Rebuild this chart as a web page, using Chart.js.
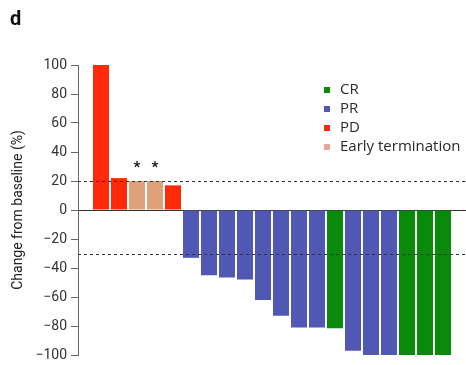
<!DOCTYPE html>
<html>
<head>
<meta charset="utf-8">
<script src="https://cdn.jsdelivr.net/npm/chart.js@4"></script>
<style>
  html, body { margin: 0; padding: 0; background: #fff; }
  #wrap { position: relative; width: 466px; height: 365px; }
  #panel { position: absolute; left: 10px; top: 6px; font: bold 20px Roboto, sans-serif; color: #111; }
</style>
</head>
<body>
<div id="wrap">
  <canvas id="waterfall" width="466" height="365"></canvas>
  <div id="panel">d</div>
</div>
<script>
// patients, in waterfall order
const patients  = [1, 2, 3, 4, 5, 6, 7, 8, 9, 10, 11, 12, 13, 14, 15, 16, 17, 18, 19, 20];
const changes   = [100, 22, 20, 20, 17, -33, -45, -46.5, -48, -62, -73, -81, -81, -81.5, -97, -100, -100, -100, -100, -100];
const responses = ['PD', 'PD', 'ET', 'ET', 'PD', 'PR', 'PR', 'PR', 'PR', 'PR', 'PR', 'PR', 'PR', 'CR', 'PR', 'PR', 'PR', 'CR', 'CR', 'CR'];
const legendKeys   = ['CR', 'PR', 'PD', 'ET'];
const legendLabels = ['CR', 'PR', 'PD', 'Early termination'];
const thresholds = [20, -30];
const yTicks = [-100, -80, -60, -40, -20, 0, 20, 40, 60, 80, 100];

const colors = { CR: '#0a8a0a', PR: '#5058b4', PD: '#fe2a0a', ET: '#dfa07c' };
const legendColors = { CR: '#0a8a0a', PR: '#5058b4', PD: '#fe2a0a', ET: '#e6a596' };

// dashed reference lines, asterisks and legend
const extras = {
  id: 'extras',
  afterDatasetsDraw(chart) {
    const { ctx, chartArea, scales } = chart;
    ctx.save();
    ctx.strokeStyle = '#333';
    ctx.lineWidth = 1;
    ctx.setLineDash([3, 3]);
    thresholds.forEach(t => {
      const y = Math.round(scales.y.getPixelForValue(t)) + 0.5;
      ctx.beginPath();
      ctx.moveTo(chartArea.left, y);
      ctx.lineTo(chartArea.right, y);
      ctx.stroke();
    });
    ctx.setLineDash([]);

    const meta = chart.getDatasetMeta(0);
    ctx.fillStyle = '#111';
    ctx.font = 'bold 15px Roboto, sans-serif';
    ctx.textAlign = 'center';
    ctx.textBaseline = 'middle';
    responses.forEach((r, i) => {
      if (r !== 'ET') return;
      const bar = meta.data[i];
      ctx.fillText('*', bar.x, bar.y - 13);
    });

    ctx.font = '15px "Open Sans", sans-serif';
    ctx.textAlign = 'left';
    legendKeys.forEach((k, i) => {
      const y = 90 + i * 19;
      ctx.fillStyle = legendColors[k];
      ctx.fillRect(324, y - 3, 6, 6);
      ctx.fillStyle = '#2a2a2a';
      ctx.fillText(legendLabels[i], 340, y);
    });
    ctx.restore();
  }
};

new Chart(document.getElementById('waterfall'), {
  type: 'bar',
  data: {
    datasets: [{
      data: patients.map((p, i) => ({ x: p, y: changes[i] })),
      backgroundColor: responses.map(r => colors[r]),
      borderWidth: 0,
      barPercentage: 0.89,
      categoryPercentage: 1
    }]
  },
  options: {
    responsive: false,
    animation: false,
    layout: { padding: { top: 65, bottom: 10, left: 0, right: 0 } },
    plugins: { legend: { display: false }, tooltip: { enabled: false } },
    scales: {
      x: {
        type: 'linear',
        offset: false,
        min: -0.278,
        max: 21.278,
        display: false
      },
      y: {
        min: -100,
        max: 100,
        afterFit: (s) => { s.width = 78; s.paddingTop = 0; s.paddingBottom = 0; },
        afterBuildTicks: (s) => { s.ticks = yTicks.map(v => ({ value: v })); },
        ticks: {
          color: '#333',
          font: { family: 'Roboto', size: 14 },
          padding: 4,
          callback: (v) => v < 0 ? '\u2212' + Math.abs(v) : String(v)
        },
        grid: {
          drawOnChartArea: true,
          tickLength: 7,
          tickColor: '#666',
          color: (c) => c.tick && c.tick.value === 0 ? '#333' : 'transparent'
        },
        border: { display: true, color: '#666', width: 1 },
        title: {
          display: true,
          text: 'Change from baseline (%)',
          color: '#222',
          font: { family: 'Roboto', size: 14 },
          padding: { top: 10, bottom: 0 }
        }
      }
    }
  },
  plugins: [extras]
});
</script>
</body>
</html>
